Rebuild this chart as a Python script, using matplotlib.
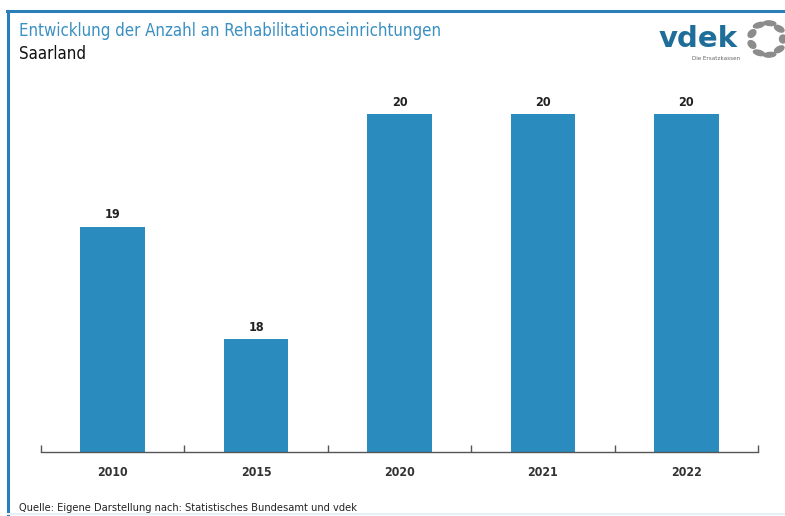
import matplotlib
matplotlib.use("Agg")
import matplotlib.pyplot as plt
import numpy as np
from matplotlib.patches import Ellipse
from matplotlib.lines import Line2D

years = ["2010", "2015", "2020", "2021", "2022"]
values = [19, 18, 20, 20, 20]

title = "Entwicklung der Anzahl an Rehabilitationseinrichtungen"
subtitle = "Saarland"
source = "Quelle: Eigene Darstellung nach: Statistisches Bundesamt und vdek"

W, H = 785, 516
fig = plt.figure(figsize=(W / 100, H / 100), dpi=100)
plt.rcParams['font.family'] = ['DejaVu Sans']
plt.rcParams['font.stretch'] = 'condensed'

bar_color = "#2a8bbf"
ax = fig.add_axes([41 / W, 1 - 451.5 / H, (758 - 41) / W, (451.5 - 57.75) / H])
x = np.arange(len(years))
ax.bar(x, values, width=0.45, color=bar_color, zorder=2)
ax.set_ylim(17, 20.5)
ax.set_xlim(-0.5, len(years) - 0.5)
for xi, v in zip(x, values):
    ax.text(xi, v + 0.045, str(v), ha="center", va="bottom", fontsize=9,
            color="#222222", fontweight="semibold", stretch="condensed")
for s in ["top", "right", "left"]:
    ax.spines[s].set_visible(False)
ax.spines["bottom"].set_color("#555555")
ax.spines["bottom"].set_linewidth(1)
ax.set_yticks([])
ax.set_xticks(np.arange(len(years) + 1) - 0.5, minor=False)
ax.set_xticklabels([])
ax.tick_params(axis="x", length=5, color="#555555", width=1, direction="in")
for xi, lab in zip(x, years):
    ax.text(xi, -0.054, lab, transform=ax.get_xaxis_transform(), ha="center", va="center",
            fontsize=8.8, color="#333333", fontweight="semibold", stretch="condensed")

# titles
fig.text(19 / W, 1 - 31 / H, title, fontsize=12.1, color="#3b90c2", ha="left", va="center",
         stretch="condensed")
fig.text(19 / W, 1 - 54 / H, subtitle, fontsize=12.1, color="#111111", ha="left", va="center",
         stretch="condensed")
fig.text(19 / W, 1 - 508 / H, source, fontsize=7.9, color="#222222", ha="left", va="center",
         stretch="condensed")

# frame lines
fig.add_artist(Line2D([7 / W, 1], [1 - 11 / H, 1 - 11 / H], color="#2a7fb8", lw=2.2))
fig.add_artist(Line2D([8 / W, 8 / W], [1 - 11 / H, 0], color="#2a7fb8", lw=2.2))
fig.add_artist(Line2D([8 / W, 1], [1 - 514 / H, 1 - 514 / H], color="#e6f0f7", lw=1.5))

# logo
fig.text(698 / W, 1 - 39 / H, "vdek", fontsize=21, fontweight="bold", color="#1f6d99",
         ha="center", va="center", stretch="normal")
fig.text(716 / W, 1 - 58 / H, "Die Ersatzkassen", fontsize=4.5, color="#666666",
         ha="center", va="center")
cx, cy, r = 767, 39, 16
for ang in np.linspace(0, 2 * np.pi, 9, endpoint=False):
    px = cx + r * np.cos(ang)
    py = cy + r * np.sin(ang)
    fig.add_artist(Ellipse((px / W, 1 - py / H), 7 / W, 8 / H, angle=np.degrees(-ang),
                           transform=fig.transFigure, color="#8c8c8c"))

fig.savefig("out.png", dpi=100)
